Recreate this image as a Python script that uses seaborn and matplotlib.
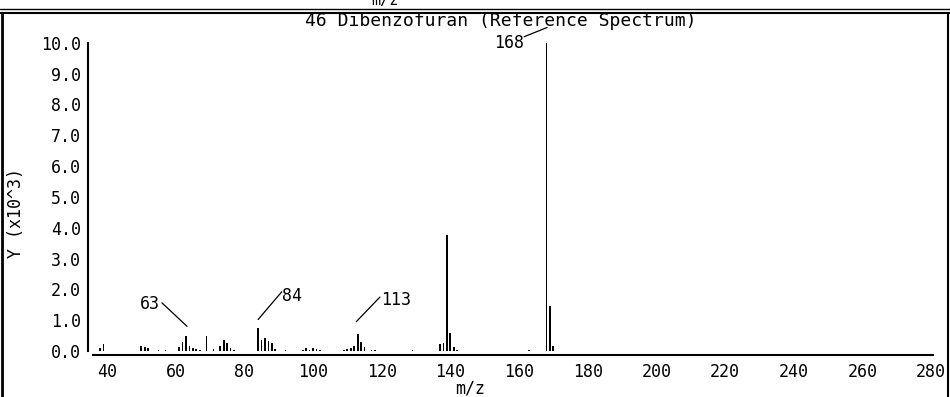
import matplotlib
matplotlib.use("Agg")
import matplotlib.pyplot as plt
import seaborn as sns
import pandas as pd
from matplotlib.lines import Line2D

# ---- data ----
mz = [38, 39, 50, 51, 52, 55, 57, 61, 62, 63, 64, 65, 66, 67, 69, 71,
      73, 74, 75, 76, 77, 84, 85, 86, 87, 88, 89, 92, 97, 98, 99, 100,
      101, 102, 109, 110, 111, 112, 113, 114, 115, 117, 118, 129, 137,
      138, 139, 140, 141, 142, 163, 168, 169, 170]
intensity = [0.08, 0.22, 0.15, 0.12, 0.08, 0.04, 0.04, 0.12, 0.28, 0.5, 0.15,
             0.1, 0.05, 0.03, 0.5, 0.05, 0.15, 0.36, 0.25, 0.1, 0.04, 0.75,
             0.35, 0.42, 0.32, 0.25, 0.06, 0.03, 0.03, 0.08, 0.04, 0.1, 0.05,
             0.04, 0.04, 0.06, 0.1, 0.15, 0.55, 0.3, 0.12, 0.03, 0.03, 0.03,
             0.22, 0.26, 3.75, 0.57, 0.14, 0.04, 0.03, 10.15, 1.45, 0.15]
xticks = [40, 60, 80, 100, 120, 140, 160, 180, 200, 220, 240, 260, 280]
yticks = [0, 1, 2, 3, 4, 5, 6, 7, 8, 9, 10]
title = "46 Dibenzofuran (Reference Spectrum)"

df = pd.DataFrame({"mz": mz, "intensity": intensity})

sns.set_style("white")
plt.rcParams["font.family"] = ["DejaVu Sans Mono", "DejaVu Sans"]
plt.rcParams["text.color"] = "black"
plt.rcParams["axes.labelcolor"] = "black"
plt.rcParams["xtick.color"] = "black"
plt.rcParams["ytick.color"] = "black"

fig = plt.figure(figsize=(9.5, 3.97), dpi=100)
ax = fig.add_axes([0.0982, 0.116, 0.9818 - 0.0982, 0.776])

sns.histplot(data=df, x="mz", weights="intensity", discrete=True, shrink=0.5,
             color="black", alpha=1, linewidth=0, ax=ax)

ax.set_xlim(36, 280.5)
ax.set_ylim(0, 10)
ax.set_xticks(xticks)
ax.set_xticklabels([str(t) for t in xticks])
ax.set_yticks(yticks)
ax.set_yticklabels([f"{t:.1f}" for t in yticks])

for s in ["top", "right"]:
    ax.spines[s].set_visible(False)
ax.spines["left"].set_position(("outward", 4))
ax.spines["bottom"].set_position(("outward", 3))
ax.spines["left"].set_bounds(0, 10)
ax.spines["bottom"].set_bounds(36, 280.5)
for s in ["left", "bottom"]:
    ax.spines[s].set_color("black")
    ax.spines[s].set_linewidth(1.5)
ax.tick_params(axis="both", direction="out", length=3, width=1.2,
               colors="black", labelsize=12, pad=2)
ax.tick_params(axis="x", length=4)

ax.set_xlabel("m/z", fontsize=12)
ax.xaxis.set_label_coords(0.4495, -0.092)
ax.set_ylabel("Y (x10^3)", fontsize=12)
ax.yaxis.set_label_coords(-0.0815, 0.448)
fig.text(0.527, 0.947, title, fontsize=13, ha="center", va="center",
         color="black")

# peak annotations
txt_kw = dict(fontsize=12, color="black", va="center", clip_on=False)
ax.plot([56.0, 63.3], [1.56, 0.80], color="black", lw=0.9, clip_on=False)
ax.text(55.5, 1.52, "63", ha="right", **txt_kw)
ax.plot([84.0, 90.9], [1.02, 1.92], color="black", lw=0.9, clip_on=False)
ax.text(91.0, 1.78, "84", ha="left", **txt_kw)
ax.plot([112.6, 119.5], [0.95, 1.75], color="black", lw=0.9, clip_on=False)
ax.text(119.7, 1.64, "113", ha="left", **txt_kw)
ax.plot([161.5, 168.2], [10.2, 10.5], color="black", lw=0.9, clip_on=False)
ax.text(161.4, 10.0, "168", ha="right", **txt_kw)

# outer frame like the original window
fig.add_artist(Line2D([0.002, 0.002], [0.0, 0.968], transform=fig.transFigure,
                      color="black", lw=2))
fig.add_artist(Line2D([0.998, 0.998], [0.0, 0.968], transform=fig.transFigure,
                      color="black", lw=1.5))
fig.add_artist(Line2D([0.0, 1.0], [0.968, 0.968], transform=fig.transFigure,
                      color="black", lw=1.5))
fig.add_artist(Line2D([0.0, 1.0], [0.978, 0.978], transform=fig.transFigure,
                      color="black", lw=1.0))
fig.text(0.405, 0.999, "m/z", fontsize=11, ha="center", va="center")

fig.savefig("out.png", dpi=100)
